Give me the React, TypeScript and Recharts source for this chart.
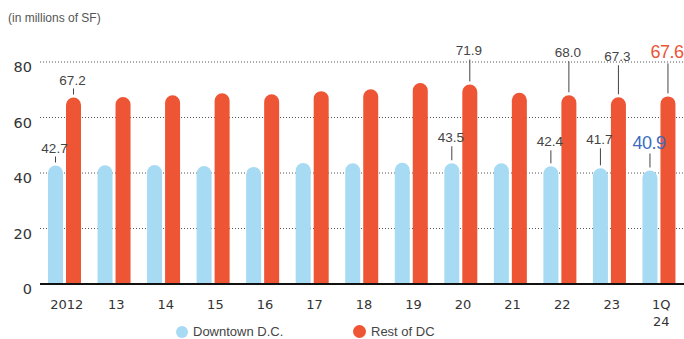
import React from 'react';
import { BarChart, Bar, XAxis, YAxis, CartesianGrid, Legend, LabelList } from 'recharts';

const categories = ['2012', '13', '14', '15', '16', '17', '18', '19', '20', '21', '22', '23', '1Q 24'];
const downtown = [42.7, 42.8, 42.9, 42.5, 42.2, 43.6, 43.5, 43.7, 43.5, 43.5, 42.4, 41.7, 40.9];
const restOfDC = [67.2, 67.4, 68.0, 68.7, 68.4, 69.5, 70.2, 72.4, 71.9, 68.9, 68.0, 67.3, 67.6];
const yTicks = [0, 20, 40, 60, 80];

const data = categories.map((category, i) => ({
  category,
  downtown: downtown[i],
  rest: restOfDC[i],
}));

// leader line length (px) for the bars that carry a callout, keyed by bar index
const blueCallouts: Record<number, number> = { 0: 6, 8: 14, 10: 13, 11: 17, 12: 14 };
const redCallouts: Record<number, number> = { 0: 6, 8: 22, 10: 31, 11: 29, 12: 30 };

const BLUE = '#a7dbf3';
const RED = '#ee5534';
const TEXT = '#444';
const LABEL_FONT = '"Liberation Sans", Arial, sans-serif';
const AXIS_FONT = '"DejaVu Sans", sans-serif';

const makeCallout = (lifts: Record<number, number>, accent: string) => (props: any) => {
  const vb = props.viewBox || {};
  const x = Number(props.x ?? vb.x);
  const y = Number(props.y ?? vb.y);
  const width = Number(props.width ?? vb.width);
  const { index, value } = props;
  const lift = lifts[index];
  if (lift === undefined) return null;
  const latest = index === categories.length - 1;
  const cx = x + width / 2;
  const bottom = y - 3;
  const top = bottom - lift;
  return (
    <g>
      <line x1={cx} x2={cx} y1={bottom} y2={top} stroke={TEXT} strokeWidth={1} />
      <text
        x={cx - 1}
        y={top - (latest ? 5 : 4)}
        textAnchor="middle"
        fontFamily={LABEL_FONT}
        fontSize={latest ? 18 : 13.5}
        letterSpacing={latest ? -0.5 : 0}
        fill={latest ? accent : TEXT}
      >
        {Number(value).toFixed(1)}
      </text>
    </g>
  );
};

const XTick = (props: any) => {
  const { x, y, payload } = props;
  const lines = String(payload.value).split(' ');
  return (
    <text x={x + 2} y={y + 25} textAnchor="middle" fontFamily={AXIS_FONT} fontSize={13} fill="#333">
      {lines.map((l, i) => (
        <tspan key={i} x={x + 2} dy={i === 0 ? 0 : 17}>
          {l}
        </tspan>
      ))}
    </text>
  );
};

const YTick = (props: any) => {
  const { x, y, payload } = props;
  return (
    <text x={x - 6} y={y + 10} textAnchor="end" fontFamily={AXIS_FONT} fontSize={14.5} fill="#333">
      {payload.value}
    </text>
  );
};

const LegendContent = () => (
  <div style={{ display: 'flex', alignItems: 'center', fontFamily: LABEL_FONT, fontSize: 13, color: TEXT, lineHeight: '15px' }}>
    <div style={{ display: 'flex', alignItems: 'center', width: 177 }}>
      <span style={{ display: 'inline-block', width: 12, height: 12, borderRadius: 6, background: BLUE, marginRight: 5 }} />
      Downtown D.C.
    </div>
    <div style={{ display: 'flex', alignItems: 'center' }}>
      <span style={{ display: 'inline-block', width: 13, height: 13, borderRadius: 7, background: RED, marginRight: 5 }} />
      Rest of DC
    </div>
  </div>
);

export default function App() {
  return (
    <div style={{ position: 'absolute', left: 0, top: 0, width: 684, height: 339, background: '#fff' }}>
      <BarChart
        width={684}
        height={339}
        data={data}
        margin={{ top: 62, right: 0, bottom: 25, left: 0 }}
        barGap={3}
        barSize={15}
      >
        <CartesianGrid vertical={false} strokeDasharray="1 2" stroke="#555" />
        <XAxis
          dataKey="category"
          axisLine={{ stroke: '#111', strokeWidth: 2 }}
          tickLine={false}
          tickSize={0}
          tickMargin={0}
          height={30}
          interval={0}
          tick={<XTick />}
        />
        <YAxis
          width={40}
          domain={[0, 80]}
          ticks={yTicks}
          axisLine={false}
          tickLine={false}
          tickSize={0}
          tick={<YTick />}
        />
        <Legend
          layout="horizontal"
          verticalAlign="middle"
          align="center"
          wrapperStyle={{ left: 176, top: 324, width: 320, height: 15 }}
          content={<LegendContent />}
        />
        <Bar dataKey="downtown" name="Downtown D.C." fill={BLUE} radius={[7.5, 7.5, 0, 0]} isAnimationActive={false}>
          <LabelList dataKey="downtown" content={makeCallout(blueCallouts, '#3b6cc0')} />
        </Bar>
        <Bar dataKey="rest" name="Rest of DC" fill={RED} radius={[7.5, 7.5, 0, 0]} isAnimationActive={false}>
          <LabelList dataKey="rest" content={makeCallout(redCallouts, RED)} />
        </Bar>
      </BarChart>
      <div
        style={{
          position: 'absolute',
          left: 8,
          top: 12,
          fontFamily: LABEL_FONT,
          fontSize: 12,
          lineHeight: '12px',
          color: '#555',
        }}
      >
        (in millions of SF)
      </div>
    </div>
  );
}
